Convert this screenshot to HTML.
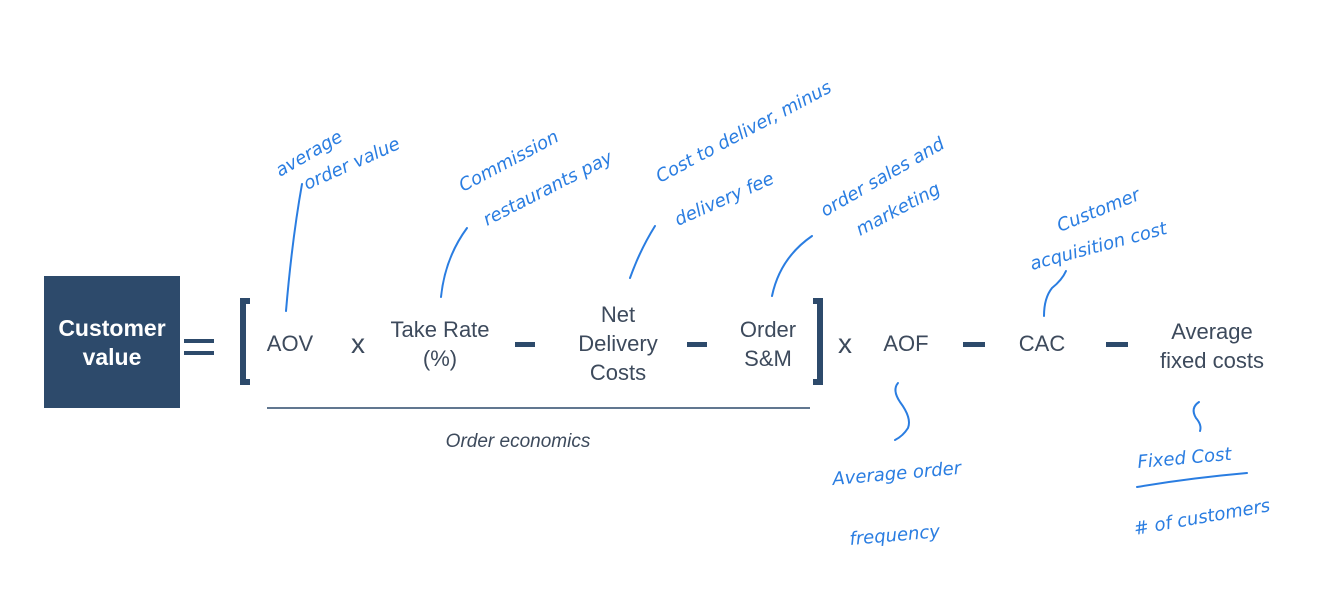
<!DOCTYPE html>
<html><head><meta charset="utf-8"><style>
html,body{margin:0;padding:0;background:#fff;}
body{width:1318px;height:596px;position:relative;overflow:hidden;font-family:"Liberation Sans",sans-serif;}
.t{position:absolute;color:#3d4a5c;font-size:22px;line-height:29px;text-align:center;transform:translateX(-50%);white-space:nowrap;}
.box{position:absolute;left:44px;top:276px;width:136px;height:132px;background:#2d4a6b;color:#fff;font-weight:bold;font-size:23px;line-height:29px;text-align:center;box-sizing:border-box;padding-top:38px;}
.d{position:absolute;height:5px;background:#2d4a6b;}
</style></head><body>
<div class="box">Customer<br>value</div>
<div class="d" style="left:184px;top:339px;width:30px;height:4px"></div>
<div class="d" style="left:184px;top:351px;width:30px;height:4px"></div>
<svg width="1318" height="596" style="position:absolute;left:0;top:0">
<path d="M250 301 H243 V382 H250" stroke="#2d4a6b" stroke-width="6" fill="none"/>
<path d="M813 301 H820 V382 H813" stroke="#2d4a6b" stroke-width="6" fill="none"/>
<line x1="267" y1="408" x2="810" y2="408" stroke="#2d4a6b" stroke-width="1.5"/>
<g stroke="#2a7de1" stroke-width="2" fill="none" stroke-linecap="round">
<path d="M302 184 Q292 240 286 311"/>
<path d="M467 228 Q445 258 441 297"/>
<path d="M655 226 Q640 250 630 278"/>
<path d="M812 236 Q780 258 772 296"/>
<path d="M1066 271 Q1062 280 1052 288 Q1044 298 1044 316"/>
<path d="M898 383 Q892 390 900 402 Q912 418 908 428 Q903 436 895 440"/>
<path d="M1199 402 Q1190 408 1196 418 Q1202 425 1200 431"/>
<path d="M1137 487 Q1190 478 1247 473"/>
</g>
<g fill="#2a7de1" font-family="DejaVu Sans, sans-serif" font-style="oblique" font-size="18">
<text x="280" y="177" transform="rotate(-30 280 177)">average</text>
<text x="307" y="190" transform="rotate(-24 307 190)">order value</text>
<text x="463" y="192" transform="rotate(-28 463 192)">Commission</text>
<text x="487" y="226" transform="rotate(-27 487 226)">restaurants pay</text>
<text x="660" y="183" transform="rotate(-28 660 183)">Cost to deliver, minus</text>
<text x="678" y="226" transform="rotate(-24 678 226)">delivery fee</text>
<text x="825" y="217" transform="rotate(-30 825 217)">order sales and</text>
<text x="860" y="236" transform="rotate(-28 860 236)">marketing</text>
<text x="1060" y="232" transform="rotate(-22 1060 232)">Customer</text>
<text x="1032" y="270" transform="rotate(-15 1032 270)">acquisition cost</text>
<text x="833" y="485" transform="rotate(-5 833 485)">Average order</text>
<text x="850" y="545" transform="rotate(-5 850 545)">frequency</text>
<text x="1138" y="468" transform="rotate(-5 1138 468)">Fixed Cost</text>
<text x="1135" y="535" transform="rotate(-10 1135 535)"># of customers</text>
</g>
</svg>
<div class="t" style="left:290px;top:329px">AOV</div>
<div class="t" style="left:358px;top:329px;font-size:28px">x</div>
<div class="t" style="left:440px;top:315px">Take Rate<br>(%)</div>
<div class="d" style="left:515px;top:342px;width:20px"></div>
<div class="t" style="left:618px;top:300px">Net<br>Delivery<br>Costs</div>
<div class="d" style="left:687px;top:342px;width:20px"></div>
<div class="t" style="left:768px;top:315px">Order<br>S&amp;M</div>
<div class="t" style="left:845px;top:329px;font-size:28px">x</div>
<div class="t" style="left:906px;top:329px">AOF</div>
<div class="d" style="left:963px;top:342px;width:22px"></div>
<div class="t" style="left:1042px;top:329px">CAC</div>
<div class="d" style="left:1106px;top:342px;width:22px"></div>
<div class="t" style="left:1212px;top:317px">Average<br>fixed costs</div>
<div class="t" style="left:518px;top:427px;font-size:19px;font-style:italic">Order economics</div>
</body></html>
